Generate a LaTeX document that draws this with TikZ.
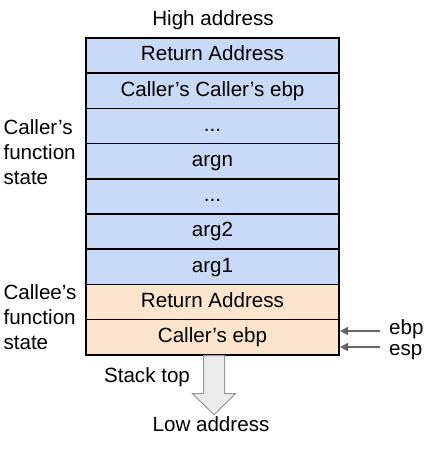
\documentclass[tikz,border=0pt]{standalone}
\usepackage{fontspec}
\setmainfont{Liberation Sans}
\usetikzlibrary{positioning,arrows.meta}
\definecolor{callerblue}{HTML}{C9DAF8}
\definecolor{calleeorange}{HTML}{FCE5CD}
\definecolor{ptrgray}{HTML}{666666}
\tikzset{
	slot/.style = {draw=black, line width=1.6pt, outer sep=0pt, minimum width=253pt,
	 minimum height=35.2pt, text height=14.8pt, text depth=4.3pt},
	caller/.style = {slot, fill=callerblue},
	callee/.style = {slot, fill=calleeorange},
	side/.style = {align=left, anchor=west},
	reg/.style = {anchor=west, text height=14.8pt, text depth=4.3pt, inner sep=0pt},
	ptr/.style = {draw=ptrgray, line width=2pt, -{Triangle[length=8pt,width=8pt]}},
	pushdown/.style = {draw=gray!80, fill=gray!15, line width=1pt}
	}

\begin{document}
\begin{tikzpicture}[x=1pt, y=1pt, font=\fontsize{20.6}{25}\selectfont]
\useasboundingbox (0,0) rectangle (423,-457);

% NODES
\node (high) at (213,-20) {High address};
% caller's frame
\node (ret) [caller, anchor=north] at (212.5,-38) {Return Address};
\node (ccebp) [caller, below=0pt of ret] {Caller’s Caller’s ebp};
\node (dotsa) [caller, below=0pt of ccebp] {...};
\node (argn) [caller, below=0pt of dotsa] {argn};
\node (dotsb) [caller, below=0pt of argn] {...};
\node (argtwo) [caller, below=0pt of dotsb] {arg2};
\node (argone) [caller, below=0pt of argtwo] {arg1};
% callee's frame
\node (cret) [callee, below=0pt of argone] {Return Address};
\node (cebp) [callee, below=0pt of cret] {Caller’s ebp};
% side labels
\node (callerlabel) [side] at (0,-152) {Caller’s\\function\\state};
\node (calleelabel) [side] at (0,-317) {Callee’s\\function\\state};
\node (ebp) [reg] at (389,-329) {ebp};
\node (esp) [reg] at (389,-350) {esp};
\node (top) at (147,-377) {Stack top};
\node (low) at (211,-424) {Low address};

%CONNECTIONS
\draw [ptr] ([xshift=-9pt,yshift=-2pt]ebp.west) -- ++(-40,0);
\draw [ptr] ([xshift=-9pt,yshift=3pt]esp.west) -- ++(-40,0);
\draw [pushdown] ([xshift=-9pt,yshift=-0.9pt]cebp.south) -- ++(0,-38) -- ++(-11,0)
	-- ++(21.5,-21) -- ++(21.5,21) -- ++(-11,0) -- ++(0,38) -- cycle;

\end{tikzpicture}
\end{document}
